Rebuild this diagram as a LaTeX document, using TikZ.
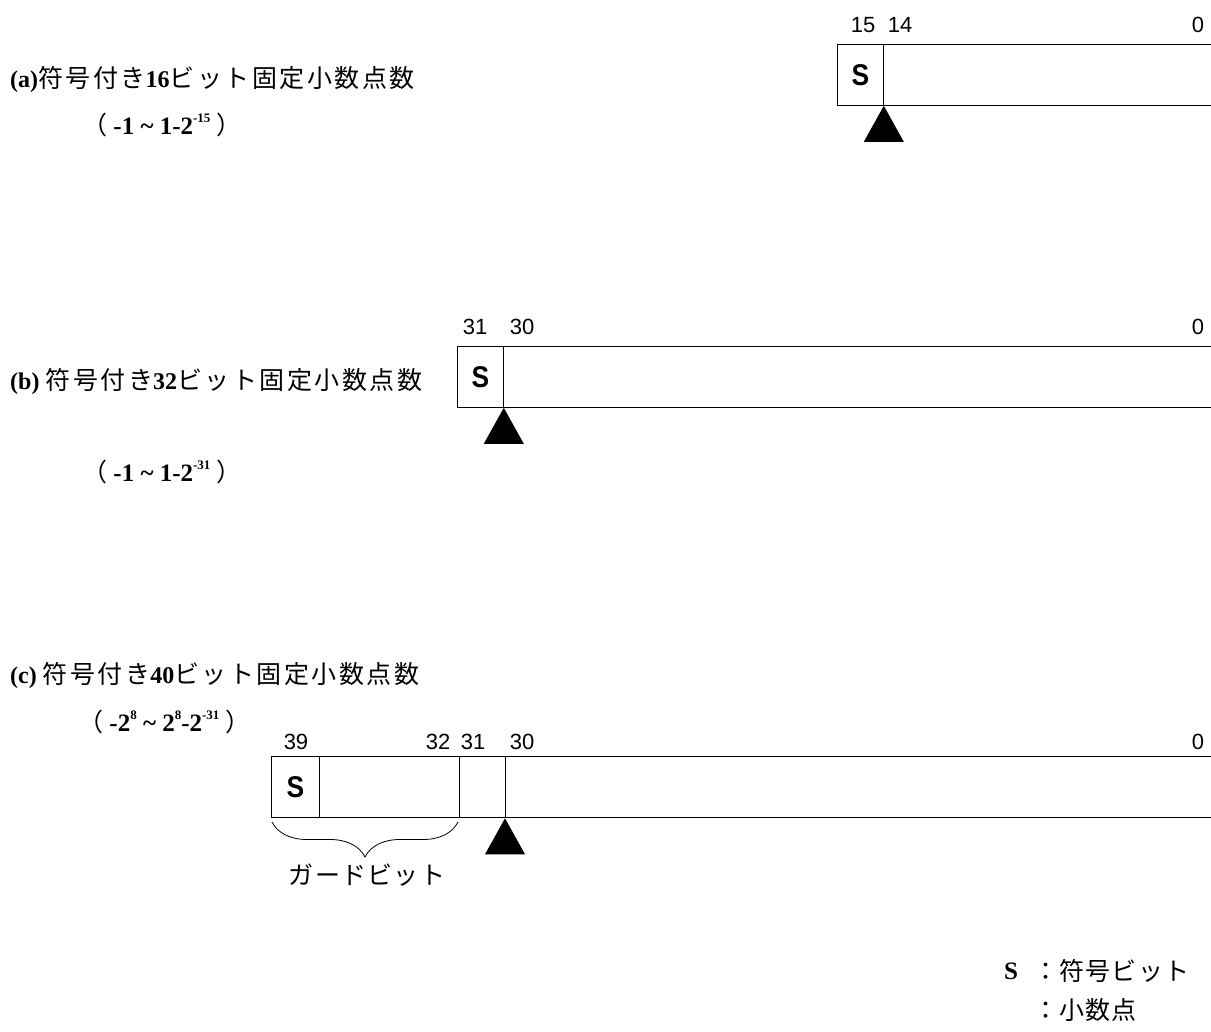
\documentclass[tikz,border=0pt]{standalone}
\usepackage{fontspec}
\setmainfont{Liberation Serif}
\setsansfont{Liberation Sans}
\newfontfamily\jp[LetterSpace=5]{Noto Sans CJK JP}
\newfontfamily\jpw[LetterSpace=10]{Noto Sans CJK JP}
\usetikzlibrary{positioning,decorations.pathreplacing}
\newcommand\jpt[1]{{\fontsize{25}{28}\selectfont\jpw\mdseries #1}}
\newcommand\sups[1]{\raisebox{1.05ex}{\fontsize{13}{13}\selectfont\bfseries #1}}
\tikzset{
  regbox/.style={rectangle,draw,line width=1.3pt,anchor=north west,minimum height=61pt,inner sep=0pt},
  scell/.style={rectangle,draw,line width=0.8pt,anchor=north west,minimum width=46pt,minimum height=61pt,inner sep=0pt,font=\fontsize{30}{30}\selectfont\sffamily\bfseries},
  bitno/.style={inner sep=0pt,font=\fontsize{22}{22}\selectfont\sffamily},
  ttl/.style={anchor=west,inner sep=0pt,font=\fontsize{24}{28}\selectfont\bfseries},
  rng/.style={anchor=west,inner sep=0pt,font=\fontsize{25}{28}\selectfont\bfseries},
  jlbl/.style={inner sep=0pt,font=\fontsize{25}{28}\selectfont\jp},
  divl/.style={line width=0.8pt},
  ptmark/.style={fill=black}
}
\begin{document}
\begin{tikzpicture}[x=1pt,y=-1pt]
\useasboundingbox (0,0) rectangle (1211,1032);
% (a) 16 bit
\node[ttl] (ta) at (10,80) {(a)\jpt{符号付き}16\jpt{ビット固定小数点数}};
\node[rng] (ra) at (82,125) {\jpt{（} -1 \textasciitilde{} 1-2\sups{-15} \jpt{）}};
\node[regbox,minimum width=400pt] (boxA) at (837,44) {};
\node[scell] (sA) at (boxA.north west) {\scalebox{0.88}[1]{S}};
\fill[ptmark] (sA.south east) -- ++(-20,36) -- ++(40,0) -- cycle;
\node[bitno] (a15) at (863,25) {15};
\node[bitno] (a14) at (900,25) {14};
\node[bitno] (a0) at (1198,25) {0};
% (b) 32 bit
\node[ttl] (tb) at (10,382) {(b) \jpt{符号付き}32\jpt{ビット固定小数点数}};
\node[rng] (rb) at (82,472) {\jpt{（} -1 \textasciitilde{} 1-2\sups{-31} \jpt{）}};
\node[regbox,minimum width=800pt] (boxB) at (457,346) {};
\node[scell] (sB) at (boxB.north west) {\scalebox{0.88}[1]{S}};
\fill[ptmark] (sB.south east) -- ++(-20,36) -- ++(40,0) -- cycle;
\node[bitno] (b31) at (475,327) {31};
\node[bitno] (b30) at (522,327) {30};
\node[bitno] (b0) at (1198,327) {0};
% (c) 40 bit
\node[ttl] (tc) at (10,676) {(c) \jpt{符号付き}40\jpt{ビット固定小数点数}};
\node[rng] (rc) at (78,722) {\jpt{（} -2\sups{8} \textasciitilde{} 2\sups{8}-2\sups{-31} \jpt{）}};
\node[regbox,minimum width=1000pt] (boxC) at (271,756) {};
\node[scell,minimum width=48pt] (sC) at (boxC.north west) {\scalebox{0.88}[1]{S}};
\coordinate (g32) at (459,756);
\coordinate (g31) at (505,756);
\draw[divl] (g32) -- (g32 |- boxC.south);
\draw[divl] (g31) -- (g31 |- boxC.south);
\fill[ptmark] (g31 |- boxC.south) -- ++(-20,36) -- ++(40,0) -- cycle;
\node[bitno] (c39) at (296,742) {39};
\node[bitno] (c32) at (438,742) {32};
\node[bitno] (c31) at (473,742) {31};
\node[bitno] (c30) at (522,742) {30};
\node[bitno] (c0) at (1198,742) {0};
\coordinate (gl) at (272,822);
\coordinate (gr) at (458,822);
\draw[line width=0.8pt,decorate,decoration={brace,mirror,amplitude=35pt}] (gl) -- (gr);
\node[jlbl] (guard) at (367,875) {ガードビット};
% legend
\node[inner sep=0pt,font=\fontsize{25}{26}\selectfont\bfseries] (ls) at (1011,971) {S};
\node[jlbl,anchor=west] (lsd) at (1033,971) {：符号ビット};
\node[jlbl,anchor=west] (lpd) at (1033,1010) {：小数点};
\end{tikzpicture}
\end{document}
